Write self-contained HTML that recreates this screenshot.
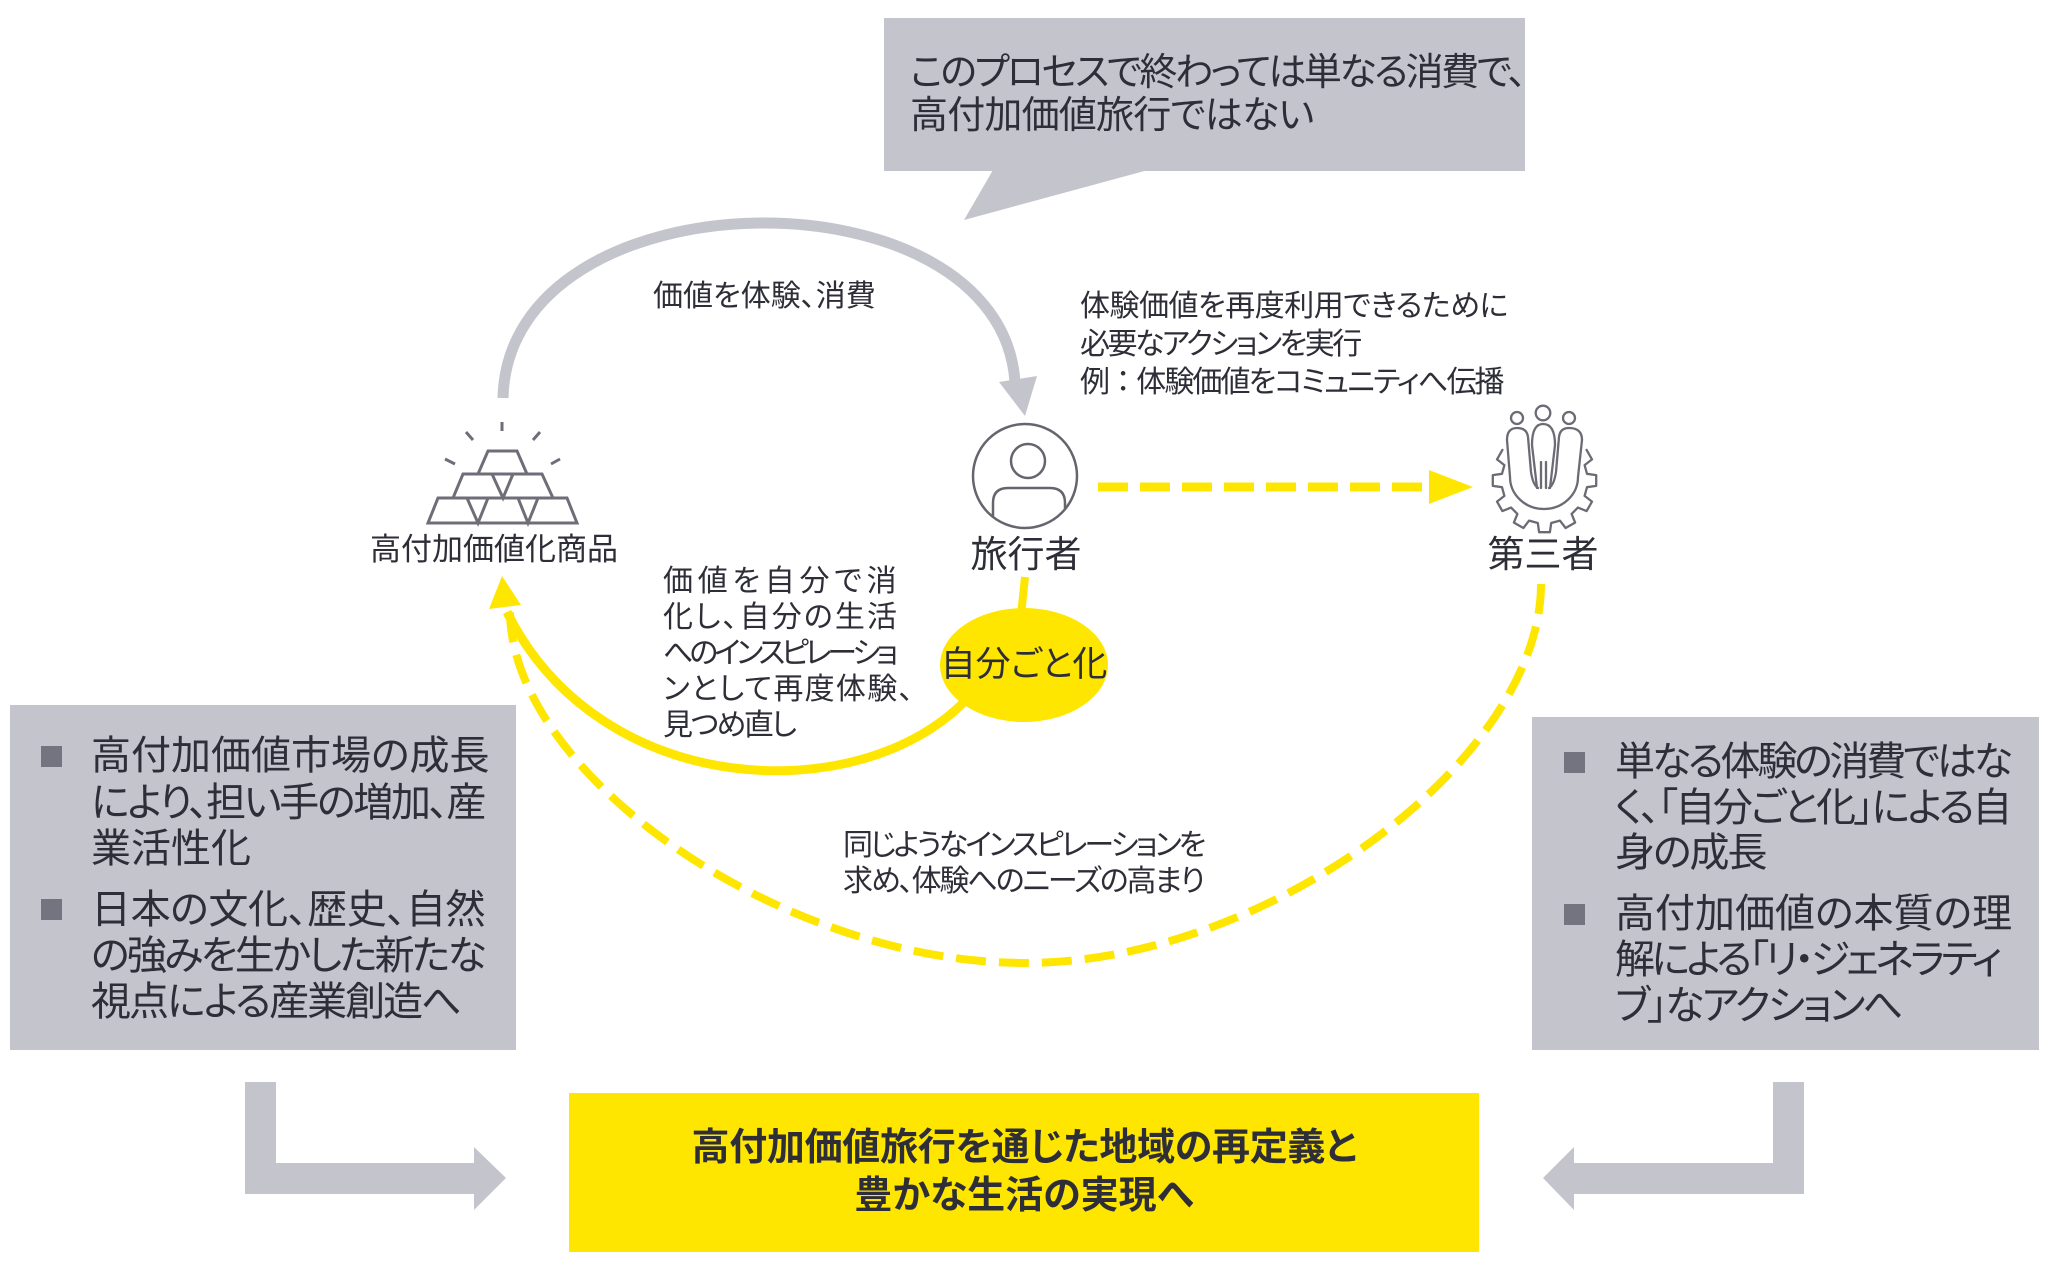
<!DOCTYPE html>
<html><head><meta charset="utf-8">
<style>
html,body{margin:0;padding:0;background:#fff;}
body{width:2048px;height:1274px;position:relative;overflow:hidden;font-family:"Liberation Sans","Noto Sans CJK JP",sans-serif;color:#2e2e38;font-feature-settings:"palt";}
svg{position:absolute;left:0;top:0;}
.t{position:absolute;white-space:nowrap;}
.c{text-align:center;}
</style></head><body>
<svg width="2048" height="1274" viewBox="0 0 2048 1274" xmlns="http://www.w3.org/2000/svg">
<defs><clipPath id="cc"><circle cx="1025" cy="476" r="51"/></clipPath></defs>
<!-- callout -->
<rect x="884" y="18" width="641" height="153" fill="#C4C4CD"/>
<polygon points="993,170 964,220 1148,170" fill="#C4C4CD"/>
<!-- gray arc -->
<path d="M503,398 C508,170 1000,165 1015,382" fill="none" stroke="#C4C4CD" stroke-width="11"/>
<polygon points="999,382 1025,416 1037,376" fill="#C4C4CD"/>
<!-- traveler icon -->
<circle cx="1025" cy="476" r="52" fill="#fff" stroke="#65656e" stroke-width="2.5"/>
<circle cx="1028" cy="461" r="17" fill="none" stroke="#65656e" stroke-width="2.5"/>
<path d="M993,540 V503 Q993,488 1008,488 H1050 Q1065,488 1065,503 V540" fill="none" stroke="#65656e" stroke-width="2.5" clip-path="url(#cc)"/>
<!-- yellow dashed straight arrow -->
<line x1="1098" y1="487" x2="1430" y2="487" stroke="#FFE600" stroke-width="9" stroke-dasharray="30 12"/>
<polygon points="1429,470 1473,487 1429,504" fill="#FFE600"/>
<!-- gold icon -->
<g fill="none" stroke="#6e6e78" stroke-width="3" stroke-linejoin="miter">
<line x1="502" y1="422" x2="502" y2="431"/>
<line x1="466" y1="432" x2="473" y2="440"/>
<line x1="540" y1="432" x2="533" y2="440"/>
<line x1="445" y1="459" x2="455" y2="464"/>
<line x1="560" y1="459" x2="551" y2="464"/>
<polygon points="488,451 517,451 527,474 478,474"/>
<polygon points="463,474 542,474 553,498 453,498"/>
<polyline points="492,474 503,498 513,474"/>
<polygon points="438,498 567,498 577,523 428,523"/>
<polyline points="467,498 478,523 488,498"/>
<polyline points="518,498 528,523 538,498"/>
</g>
<!-- third party icon -->
<g fill="none" stroke="#6b6b75" stroke-width="2.3" stroke-linejoin="round" stroke-linecap="round">
<path d="M1502.4,449.9 L1497.0,459.4 L1504.4,465.1 L1502.0,473.8 L1492.8,475.1 L1492.8,485.9 L1502.0,487.2 L1504.4,495.9 L1497.0,501.6 L1502.4,511.1 L1511.1,507.6 L1517.4,513.9 L1513.9,522.6 L1523.4,528.0 L1529.1,520.6 L1537.8,523.0 L1539.1,532.2 L1549.9,532.2 L1551.2,523.0 L1559.9,520.6 L1565.6,528.0 L1575.1,522.6 L1571.6,513.9 L1577.9,507.6 L1586.6,511.1 L1592.0,501.6 L1584.6,495.9 L1587.0,487.2 L1596.2,485.9 L1596.2,475.1 L1587.0,473.8 L1584.6,465.1 L1592.0,459.4 L1586.6,449.9"/>
<path d="M1507,440 L1510,477 A34,32 0 0 0 1578,477 L1582,440"/>
<circle cx="1517" cy="418" r="6"/>
<circle cx="1543" cy="413" r="7.3"/>
<circle cx="1569" cy="418" r="6"/>
<path d="M1507,440 Q1507,428 1517,428 Q1527,428 1528,437 L1531,472 Q1533,485 1538,488"/>
<path d="M1582,440 Q1582,428 1569,428 Q1560,428 1559,437 L1556,472 Q1554,485 1549,488"/>
<path d="M1532,445 Q1532,424 1543,424 Q1555,424 1555,445 L1550,488"/>
<path d="M1532,445 L1537,488"/>
<path d="M1541,462 V488 M1546,462 V488"/>
</g>
<!-- yellow connectors -->
<line x1="1025" y1="577" x2="1021" y2="615" stroke="#FFE600" stroke-width="8"/>
<ellipse cx="1024" cy="665" rx="84" ry="57" fill="#FFE600"/>
<path d="M966,700 C860,810 600,800 507,612" stroke="#FFE600" stroke-width="9" fill="none"/>
<path d="M1541,584 C1541,760 1268,963 1025,963 C783,963 512,776 510,612" stroke="#FFE600" stroke-width="8" fill="none" stroke-dasharray="30 13"/>
<polygon points="502,576 489,609 521,605" fill="#FFE600"/>
<!-- boxes -->
<rect x="10" y="705" width="506" height="345" fill="#C4C4CD"/>
<rect x="1532" y="717" width="507" height="333" fill="#C4C4CD"/>
<rect x="41" y="746" width="21" height="21" fill="#747480"/>
<rect x="41" y="899" width="21" height="21" fill="#747480"/>
<rect x="1564" y="752" width="21" height="21" fill="#747480"/>
<rect x="1564" y="904" width="21" height="21" fill="#747480"/>
<rect x="569" y="1093" width="910" height="159" fill="#FFE600"/>
<polygon points="245,1082 276,1082 276,1163 474,1163 474,1147 506,1178 474,1210 474,1194 245,1194" fill="#C4C4CD"/>
<polygon points="1804,1082 1773,1082 1773,1163 1574,1163 1574,1147 1543,1178 1574,1210 1574,1194 1804,1194" fill="#C4C4CD"/>
</svg>

<!-- callout text -->
<div class="t" style="left:910px;top:49px;font-size:38px;line-height:48px;letter-spacing:-2.5px;">このプロセスで終わっては単なる消費で、</div>
<div class="t" style="left:910px;top:92px;font-size:38px;line-height:48px;letter-spacing:-0.8px;">高付加価値旅行ではない</div>

<div class="t" style="left:653px;top:278px;font-size:30px;line-height:38px;">価値を体験、消費</div>

<div class="t" style="left:1080px;top:288px;font-size:30px;line-height:38px;letter-spacing:-0.5px;">体験価値を再度利用できるために</div>
<div class="t" style="left:1080px;top:326px;font-size:30px;line-height:38px;letter-spacing:-2.5px;">必要なアクションを実行</div>
<div class="t" style="left:1080px;top:364px;font-size:30px;line-height:38px;letter-spacing:-1.9px;">例<span style="font-feature-settings:normal;">：</span>体験価値をコミュニティへ伝播</div>

<div class="t c" style="left:344px;width:300px;top:530px;font-size:31px;line-height:40px;">高付加価値化商品</div>
<div class="t c" style="left:926px;width:200px;top:532px;font-size:37px;line-height:46px;">旅行者</div>
<div class="t c" style="left:1443px;width:200px;top:532px;font-size:37px;line-height:46px;">第三者</div>
<div class="t c" style="left:924px;width:200px;top:643px;font-size:35px;line-height:44px;">自分ごと化</div>

<div class="t" style="left:663px;top:564px;font-size:30px;line-height:36px;letter-spacing:4.7px;">価値を自分で消</div>
<div class="t" style="left:663px;top:600px;font-size:30px;line-height:36px;letter-spacing:2.1px;">化し、自分の生活</div>
<div class="t" style="left:663px;top:636px;font-size:30px;line-height:36px;letter-spacing:-4.1px;">へのインスピレーショ</div>
<div class="t" style="left:663px;top:672px;font-size:30px;line-height:36px;letter-spacing:1.3px;">ンとして再度体験、</div>
<div class="t" style="left:663px;top:708px;font-size:30px;line-height:36px;letter-spacing:-2.4px;">見つめ直し</div>

<div class="t" style="left:843px;top:827px;font-size:30px;line-height:38px;letter-spacing:-2.9px;">同じようなインスピレーションを</div>
<div class="t" style="left:843px;top:863px;font-size:30px;line-height:38px;letter-spacing:-2.1px;">求め、体験へのニーズの高まり</div>

<div class="t" style="left:91px;top:733px;font-size:40px;line-height:46px;">高付加価値市場の成長</div>
<div class="t" style="left:91px;top:780px;font-size:40px;line-height:46px;letter-spacing:-2.3px;">により、担い手の増加、産</div>
<div class="t" style="left:91px;top:826px;font-size:40px;line-height:46px;">業活性化</div>
<div class="t" style="left:91px;top:887px;font-size:40px;line-height:46px;letter-spacing:-0.4px;">日本の文化、歴史、自然</div>
<div class="t" style="left:91px;top:933px;font-size:40px;line-height:46px;letter-spacing:-2.7px;">の強みを生かした新たな</div>
<div class="t" style="left:91px;top:979px;font-size:40px;line-height:46px;letter-spacing:-2px;">視点による産業創造へ</div>

<div class="t" style="left:1615px;top:739px;font-size:40px;line-height:46px;letter-spacing:-3.2px;">単なる体験の消費ではな</div>
<div class="t" style="left:1615px;top:785px;font-size:40px;line-height:46px;letter-spacing:-2.4px;">く、「自分ごと化」による自</div>
<div class="t" style="left:1615px;top:830px;font-size:40px;line-height:46px;letter-spacing:-2px;">身の成長</div>
<div class="t" style="left:1615px;top:891px;font-size:40px;line-height:46px;">高付加価値の本質の理</div>
<div class="t" style="left:1615px;top:937px;font-size:40px;line-height:46px;letter-spacing:-3.6px;">解による「リ・ジェネラティ</div>
<div class="t" style="left:1615px;top:983px;font-size:40px;line-height:46px;letter-spacing:-2.5px;">ブ」なアクションへ</div>

<div class="t c" style="left:569px;width:910px;top:1124px;font-size:38px;line-height:48px;font-weight:700;letter-spacing:-0.3px;">高付加価値旅行を通じた地域の再定義と</div>
<div class="t c" style="left:569px;width:910px;top:1172px;font-size:38px;line-height:48px;font-weight:700;">豊かな生活の実現へ</div>
</body></html>
